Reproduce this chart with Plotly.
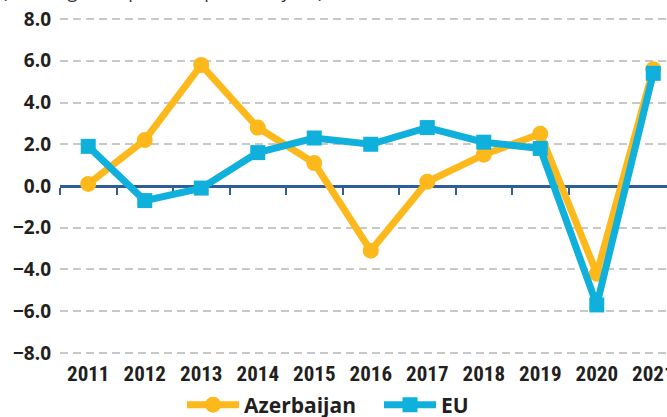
import plotly.graph_objects as go

years = ["2011", "2012", "2013", "2014", "2015", "2016", "2017", "2018", "2019", "2020", "2021"]
azerbaijan = [0.1, 2.2, 5.8, 2.8, 1.1, -3.1, 0.2, 1.5, 2.5, -4.2, 5.6]
eu = [1.9, -0.7, -0.1, 1.6, 2.3, 2.0, 2.8, 2.1, 1.8, -5.7, 5.4]
y_ticks = [-8, -6, -4, -2, 0, 2, 4, 6, 8]
subtitle = "(% change compared to previous year)"

YELLOW = "#FDB81C"
CYAN = "#10B0DC"
ZERO = "#2E5E95"
TXT = "#231F20"

ymin, ymax = -8.1, 8.1

fig = go.Figure()
fig.add_trace(go.Scatter(
    x=years, y=azerbaijan, name="Azerbaijan", mode="lines+markers",
    line=dict(color=YELLOW, width=7), marker=dict(symbol="circle", size=16, color=YELLOW),
))
fig.add_trace(go.Scatter(
    x=years, y=eu, name="EU", mode="lines+markers",
    line=dict(color=CYAN, width=7), marker=dict(symbol="square", size=15, color=CYAN),
))
# helper trace so the zero-line axis is rendered
fig.add_trace(go.Scatter(x=years, y=[None] * len(years), xaxis="x2", showlegend=False,
                         hoverinfo="skip", mode="lines"))

xr = [-0.5, 10.243]
fig.update_layout(
    width=667, height=417,
    margin=dict(l=60, r=0, t=17, b=62, autoexpand=False),
    paper_bgcolor="white", plot_bgcolor="white",
    xaxis=dict(
        type="category", range=xr, showgrid=False, zeroline=False, showline=False,
        automargin=False, ticks="", ticklabelstandoff=4,
        tickfont=dict(family="Liberation Sans Narrow, Roboto Condensed, DejaVu Sans Condensed",
                      size=21, color=TXT, weight="bold"),
    ),
    xaxis2=dict(
        type="category", range=xr, overlaying="x", anchor="free",
        position=(0 - ymin) / (ymax - ymin), automargin=False,
        showgrid=False, zeroline=False, showline=True, linecolor=ZERO, linewidth=2.5,
        ticks="outside", tickson="boundaries", ticklen=7, tickwidth=2, tickcolor=ZERO,
        showticklabels=False, layer="below traces",
    ),
    yaxis=dict(
        range=[ymin, ymax], tickvals=y_ticks, tickformat=".1f", automargin=False,
        showgrid=True, gridcolor="#C8C8C8", gridwidth=1.5, griddash="8px,5px",
        zeroline=False, showline=False, ticks="", ticklabelstandoff=8,
        tickfont=dict(family="Open Sans", size=19, color=TXT, weight="bold"),
    ),
    legend=dict(
        orientation="h", x=(182 - 60) / 607, xanchor="left",
        yref="container", y=12 / 417, yanchor="middle",
        itemwidth=52, entrywidthmode="pixels", entrywidth=130,
        font=dict(family="Open Sans", size=21, color=TXT, weight="bold"),
        bgcolor="rgba(0,0,0,0)",
    ),
    annotations=[dict(
        text=subtitle, xref="paper", yref="paper", x=-60 / 607, y=1,
        xanchor="left", yanchor="bottom", yshift=12, showarrow=False,
        font=dict(family="Open Sans", size=18, color="#333333"),
    )],
)

fig.write_html(
    "out.html",
    config={"displayModeBar": False},
    post_script="document.body.style.margin='0px'; document.body.style.overflow='hidden';",
)
